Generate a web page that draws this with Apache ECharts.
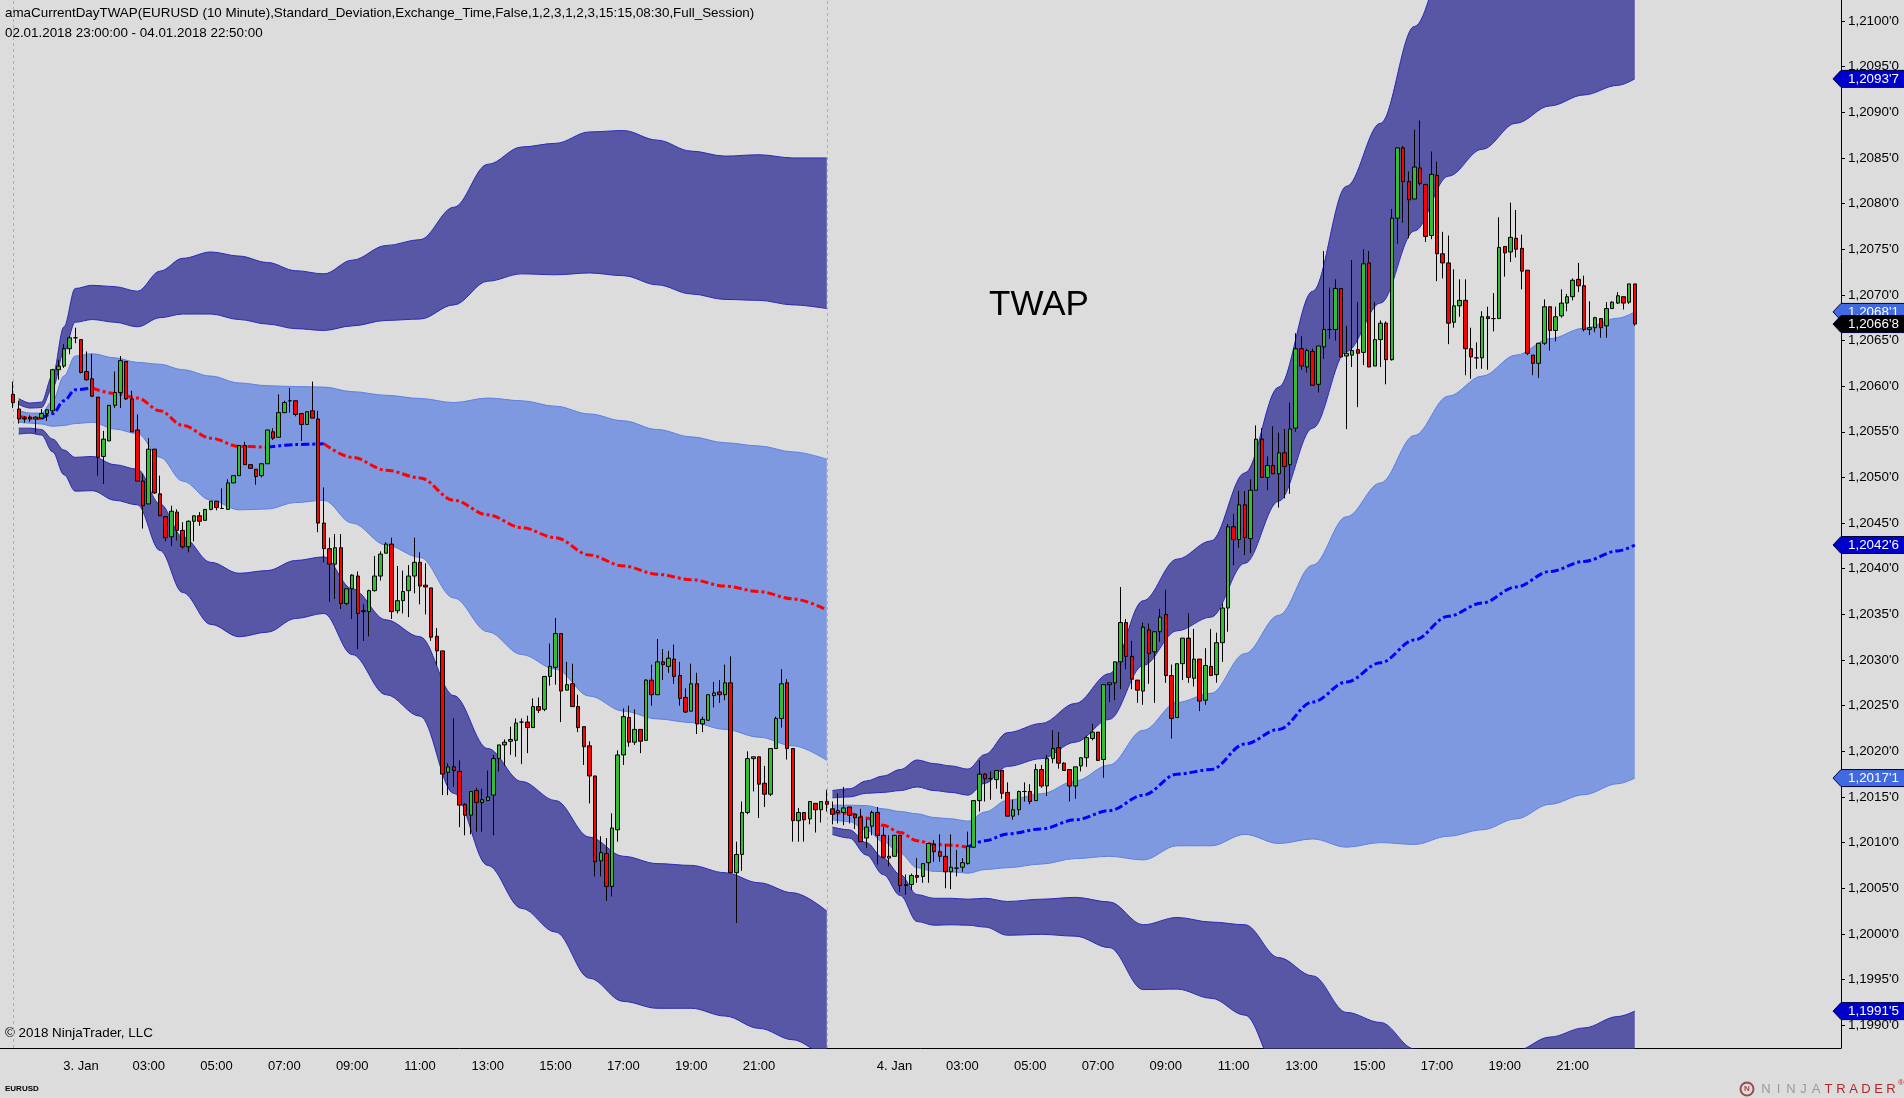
<!DOCTYPE html>
<html>
<head>
<meta charset="utf-8">
<script src="https://cdn.jsdelivr.net/npm/echarts@6/dist/echarts.min.js"></script>
<style>
html,body{margin:0;padding:0;background:#dcdcdc}
#chart{width:1904px;height:1098px}
</style>
</head>
<body>
<div id="chart"></div>
<script>
// EURUSD 10 minute bars, 02.01.2018 23:00 - 04.01.2018 22:50
// prices are kept as pips above 1.2000 (59.1 -> 1.20591)
var opens = [
59.1,57.5,56.5,56.6,56.4,56.5,57.0,57.3,61.8,62.2,64.1,65.3,
65.1,61.6,60.8,58.8,52.3,54.0,57.9,59.3,62.7,58.6,55.2,49.6,
47.1,53.1,48.2,45.7,43.5,46.2,44.2,42.4,45.2,45.8,45.3,46.5,
47.4,46.6,46.5,49.4,50.2,53.5,51.4,50.9,50.2,51.5,55.0,54.4,
57.1,58.4,58.4,57.0,55.8,57.3,56.4,45.0,42.2,40.5,42.3,36.2,
37.8,39.2,35.3,35.3,37.6,39.2,41.7,42.7,35.4,36.5,37.6,39.2,
40.7,38.2,37.9,32.6,31.0,17.7,18.3,17.8,14.2,13.0,15.7,14.4,
14.6,15.2,19.2,20.7,21.1,21.2,23.2,23.2,22.6,24.9,24.6,28.2,
29.2,32.9,26.7,27.4,24.9,22.7,20.6,17.3,8.0,8.8,5.2,11.4,
19.6,23.7,21.0,22.4,21.2,27.8,26.2,29.8,29.3,30.1,28.3,25.9,
24.4,27.4,23.0,23.4,26.1,26.5,26.2,27.5,6.7,8.7,13.3,19.2,
19.4,16.5,15.3,20.3,23.6,27.5,20.3,12.4,13.3,12.6,14.3,13.6,
14.5,13.7,13.3,13.3,13.9,13.1,12.8,10.5,11.8,13.3,10.8,8.3,
8.5,10.8,5.3,5.4,6.4,6.3,7.8,9.8,9.0,8.5,6.8,7.2,
7.3,7.7,9.5,14.6,17.5,17.0,16.9,17.9,15.5,12.9,13.6,15.6,
15.6,14.6,18.0,16.2,19.2,20.4,18.7,18.0,16.2,18.4,19.3,21.4,
22.1,19.1,27.3,27.5,29.8,34.1,30.4,27.8,26.6,33.3,30.9,33.1,
35.0,28.3,23.7,29.6,32.4,28.0,30.1,25.6,29.3,28.4,31.9,35.7,
44.6,43.2,47.0,43.3,48.6,54.2,50.0,51.3,50.4,52.7,51.4,55.4,
64.1,62.1,63.8,60.2,64.3,66.2,66.2,70.7,63.3,63.4,64.0,63.7,
73.5,62.2,65.1,66.9,62.9,78.4,86.1,82.4,80.5,83.9,82.1,76.5,
83.1,74.5,73.5,67.0,68.8,69.4,64.1,63.1,63.1,67.6,67.4,67.4,
75.3,74.7,76.2,75.1,72.7,63.4,62.5,64.7,68.7,66.1,67.7,69.1,
69.8,71.7,71.0,66.2,66.4,67.4,66.6,68.5,69.1,69.8,69.2,71.2
];
var highs = [
60.5,58.4,56.7,56.8,56.7,57.5,57.5,61.9,62.9,64.6,65.5,66.4,
65.1,63.8,63.5,58.8,55.1,57.9,61.6,63.3,62.7,59.5,56.9,50.4,
54.3,53.1,50.2,45.7,46.9,46.5,45.1,45.3,45.8,46.2,46.5,47.4,
47.4,48.8,49.8,50.2,53.5,53.9,51.4,50.9,51.5,55.2,55.4,59.1,
58.4,59.8,58.4,57.0,57.2,60.5,57.3,48.9,43.4,43.8,43.8,37.8,
39.4,39.7,36.1,37.7,41.4,41.9,42.9,43.4,40.3,39.8,40.4,43.4,
41.8,40.6,37.9,33.5,31.0,18.7,23.6,19.0,14.3,15.6,16.0,15.9,
17.9,19.6,20.7,21.3,22.7,23.6,23.6,23.9,25.8,25.9,28.2,31.8,
34.6,32.9,29.8,29.6,26.2,22.7,21.1,17.3,10.7,10.5,13.2,20.1,
24.7,25.0,24.6,22.4,27.9,29.5,32.3,31.2,31.0,31.7,29.8,26.9,
29.6,28.6,23.8,26.2,27.6,27.8,29.5,30.4,10.1,14.5,20.0,19.4,
19.4,18.4,20.3,23.8,29.0,27.9,20.3,13.8,13.3,14.5,14.3,14.5,
15.8,14.5,15.4,16.1,13.9,13.1,13.7,12.6,13.5,13.9,11.7,10.8,
10.8,10.8,6.5,6.6,8.3,7.7,9.9,10.3,10.9,9.8,10.9,9.2,
8.3,11.2,14.6,19.0,17.6,17.8,17.9,17.9,16.6,14.7,15.7,16.6,
16.4,18.6,18.5,19.6,22.3,22.1,18.8,18.0,18.3,19.3,21.7,23.0,
22.1,27.3,27.5,29.8,38.0,34.5,32.1,27.8,34.1,34.0,33.1,35.6,
37.7,29.5,29.6,32.4,35.1,33.4,30.1,31.3,33.4,33.0,36.2,44.9,
46.0,48.5,48.5,49.8,55.7,55.4,52.3,55.6,54.9,55.3,58.2,65.8,
65.5,64.1,64.1,64.4,74.8,70.8,71.7,70.7,66.6,73.8,69.2,75.0,
74.8,69.2,67.2,67.1,79.4,86.1,86.3,83.5,88.1,89.1,82.1,85.7,
84.6,76.9,76.5,72.8,71.7,71.7,66.4,64.8,68.2,68.7,70.2,78.5,
75.3,80.1,79.3,76.6,72.7,63.4,64.7,69.5,68.7,68.7,70.6,70.1,
71.8,73.5,72.1,69.3,67.6,67.4,69.2,69.3,70.3,69.8,71.2,71.2
];
var lows = [
57.6,55.9,56.0,56.1,54.9,56.4,56.2,57.1,60.7,62.0,63.5,64.7,
61.4,60.6,58.8,50.2,49.3,54.0,57.6,57.6,58.5,55.0,49.6,44.4,
47.1,48.2,45.8,43.0,42.5,43.1,42.2,41.8,43.0,44.7,45.3,46.4,
46.4,46.6,46.5,49.4,50.2,51.4,51.0,49.2,50.0,51.5,54.1,54.4,
57.1,57.1,56.7,54.0,55.8,56.5,44.0,40.7,36.4,36.7,35.6,36.0,
34.5,31.2,32.1,32.6,37.5,38.7,41.7,34.5,35.1,35.1,34.7,37.3,
36.1,35.0,32.1,29.4,15.2,15.2,16.1,11.7,10.8,10.9,11.2,11.2,
14.6,10.8,17.8,18.4,19.6,19.4,18.6,19.8,22.6,24.2,24.4,27.2,
27.3,23.2,26.7,24.9,22.1,18.5,14.3,6.3,6.3,3.6,4.1,10.1,
18.5,20.5,20.7,19.8,21.2,25.0,26.2,27.8,28.6,27.4,25.0,24.2,
24.4,21.9,22.1,23.4,24.8,25.3,25.6,6.7,1.2,6.9,13.1,15.6,
12.7,13.9,15.1,20.3,22.6,19.1,10.1,10.1,10.1,12.0,11.1,12.2,
13.4,12.0,12.1,11.9,12.1,11.5,10.1,9.4,10.8,7.6,8.3,7.4,
8.5,4.6,4.3,4.8,5.6,5.6,5.6,7.9,7.9,5.0,4.9,6.3,
6.8,7.6,9.4,13.4,14.5,14.7,15.9,14.8,12.9,12.5,13.0,14.5,
14.2,14.6,16.0,15.1,18.7,18.1,17.9,14.5,14.8,17.8,18.3,21.2,
19.0,17.1,25.4,25.6,26.8,29.0,26.8,25.3,25.1,27.4,25.3,32.0,
27.5,21.4,23.7,27.8,27.5,27.1,24.4,25.1,28.3,27.5,29.8,33.1,
40.4,42.3,41.5,41.7,48.6,50.0,48.6,50.4,46.7,47.7,48.2,55.0,
61.8,61.5,60.1,59.3,63.0,65.2,65.0,63.1,55.3,62.1,57.7,62.3,
62.1,62.2,62.1,60.2,62.8,75.6,77.9,76.2,80.5,82.0,75.8,76.1,
71.5,71.8,64.6,66.4,67.6,61.2,60.8,61.9,61.9,61.8,66.0,67.4,
72.0,73.6,74.1,70.6,63.4,61.2,60.9,64.5,63.9,64.9,67.5,68.2,
69.4,70.3,66.0,65.6,65.9,65.3,65.3,68.5,69.0,68.4,69.0,66.6
];
var closes = [
58.2,56.4,56.4,56.4,56.6,57.0,57.4,61.8,62.2,64.1,65.3,65.3,
61.5,60.7,58.9,52.2,54.2,57.9,59.3,62.8,58.6,55.0,49.6,46.9,
53.1,48.3,45.8,43.4,46.3,44.2,42.4,45.2,45.8,45.2,46.5,47.4,
46.7,46.6,49.4,50.2,53.5,51.4,51.0,50.1,51.5,55.2,54.3,57.1,
58.2,58.4,56.9,55.8,57.2,56.5,45.0,42.2,40.5,42.3,36.2,37.8,
39.3,35.1,35.4,37.6,39.2,41.6,42.7,35.3,36.5,37.5,39.2,40.7,
38.1,38.0,32.5,31.0,17.5,18.3,17.9,14.1,13.0,15.6,14.4,14.7,
15.0,19.2,20.7,21.0,21.3,23.1,23.2,22.6,24.9,24.5,28.2,29.3,
32.9,26.6,27.3,24.9,22.6,20.5,17.3,7.9,8.9,5.2,11.6,19.6,
23.8,21.0,22.4,21.1,27.8,26.2,29.8,29.5,30.2,28.2,25.8,24.3,
27.4,23.0,23.5,26.2,26.4,26.2,27.5,6.7,8.7,13.3,19.2,19.4,
16.4,15.3,20.3,23.6,27.4,20.3,12.4,13.3,12.5,14.5,13.6,14.5,
14.2,13.1,13.5,13.8,13.0,12.7,10.1,11.7,13.3,10.8,8.4,8.5,
10.8,5.3,5.4,6.4,6.2,7.7,9.9,9.0,8.5,6.8,7.3,7.2,
7.8,9.6,14.6,17.5,17.0,17.0,17.9,15.4,12.9,13.6,15.6,15.6,
14.5,18.0,16.2,19.2,20.3,18.7,17.9,16.2,18.3,19.3,21.5,22.1,
19.0,27.3,27.5,29.8,34.1,30.4,27.9,26.7,33.6,30.7,33.1,34.7,
28.3,23.6,29.6,32.4,28.1,30.1,25.5,29.4,28.3,31.9,35.7,44.6,
43.2,47.0,43.4,48.6,54.2,50.0,51.3,50.4,52.7,51.2,55.3,64.1,
62.2,63.9,60.1,64.4,66.2,66.2,70.7,63.2,63.6,63.9,63.6,73.4,
62.1,65.1,66.9,62.9,78.4,86.1,82.4,80.4,84.0,82.2,76.4,83.2,
74.5,73.5,66.9,68.8,69.4,64.1,63.2,63.1,67.6,67.4,67.4,75.2,
74.6,76.3,75.0,72.6,63.6,62.5,64.7,68.7,66.1,67.6,69.1,69.8,
71.6,71.0,66.2,66.4,67.5,66.4,68.5,69.2,69.9,69.1,71.2,66.8
];

// TWAP and its standard deviation, read at sample bars of each session
var day1Bars = [1,3,5,7,9,11,14,18,22,26,30,35,40,45,50,55,60,66,72,78,84,90,96,102,108,114,120,126,132,138,144];
var day1Twap = [56.7,56.5,56.45,57.0,58.4,59.6,59.8,59.2,58.7,57.3,55.7,54.3,53.4,53.3,53.6,53.7,52.2,50.8,49.95,47.5,45.9,44.5,43.4,41.5,40.3,39.4,38.8,38.1,37.5,36.7,35.5];
var day1Sd = [0.65,0.55,0.6,1.4,2.7,3.7,3.75,3.9,3.9,5.1,6.1,6.8,6.95,6.75,6.35,6.2,7.2,8.2,8.7,10.7,12.8,13.9,14.4,15.45,15.9,15.85,15.65,15.7,15.95,16.1,16.5];
var day2Bars = [145,148,151,154,157,160,163,166,169,172,176,182,188,194,200,206,212,218,224,230,236,242,248,254,260,266,272,278,284,287];
var day2Twap = [13.3,13.2,12.7,11.9,11.1,10.2,9.8,9.7,9.5,10.2,10.95,11.5,12.5,13.5,15.2,17.5,18.0,20.8,22.4,25.4,27.6,29.7,32.2,34.8,36.25,38.0,39.7,40.8,41.95,42.6];
var day2Sd = [0.8,0.9,1.35,1.8,2.3,2.95,2.95,2.9,2.85,3.15,3.7,3.85,4.25,5.0,7.1,7.85,8.35,9.9,12.5,15.0,18.1,19.7,22.4,24.1,24.85,25.4,25.5,25.55,25.5,25.53];

var sessionBars = [0, 144];
var tickBars = [12,24,36,48,60,72,84,96,108,120,132,156,168,180,192,204,216,228,240,252,264,276];
var tickLabels = ['3. Jan','03:00','05:00','07:00','09:00','11:00','13:00','15:00','17:00','19:00','21:00',
                  '4. Jan','03:00','05:00','07:00','09:00','11:00','13:00','15:00','17:00','19:00','21:00'];
var priceTicks = [1.1990,1.1995,1.2000,1.2005,1.2010,1.2015,1.2020,1.2025,1.2030,1.2035,1.2040,1.2045,
                  1.2050,1.2055,1.2060,1.2065,1.2070,1.2075,1.2080,1.2085,1.2090,1.2095,1.2100];

var FONT = '"Liberation Sans", Arial, sans-serif';
var UP = '#2fbf2f', DOWN = '#ff0000';
var DARK_FILL = '#5757a5', DARK_EDGE = '#2a2ab8';
var LIGHT_FILL = '#7e99e0', LIGHT_EDGE = '#5b80e4';

function toPrice(p) { return Math.round((1.2 + p / 10000) * 1e6) / 1e6; }
function fmtPrice(v) {
	var s = (+v).toFixed(5);
	return s.slice(0, 6).replace('.', ',') + "'" + s.slice(6);
}

// one category per 10 minute bar, with empty room left and right
var cats = [];
for (var k = -2; k <= 323; k++) cats.push(String(k));

function level(twap, sd, m) {
	return twap.map(function (t, i) { return toPrice(t + m * sd[i]); });
}

// band = stacked pair: lower edge, then width on top of it
function band(id, bars, lo, hi, fill, edge) {
	var base = { type: 'line', stack: id, symbol: 'none', smooth: 0.35, smoothMonotone: 'x',
		silent: true, z: 1, lineStyle: { color: edge, width: 1 } };
	return [
		Object.assign({}, base, { data: bars.map(function (b, i) { return [String(b), lo[i]]; }) }),
		Object.assign({}, base, {
			data: bars.map(function (b, i) { return [String(b), Math.round((hi[i] - lo[i]) * 1e6) / 1e6]; }),
			areaStyle: { color: fill, opacity: 1 }
		})
	];
}

// TWAP drawn blue while rising, red while falling
function twapRuns(bars, twap) {
	var runs = [], cur = null;
	for (var i = 1; i < bars.length; i++) {
		var up = twap[i] > twap[i - 1];
		if (!cur || cur.up !== up) {
			cur = { up: up, pts: [[String(bars[i - 1]), toPrice(twap[i - 1])]] };
			runs.push(cur);
		}
		cur.pts.push([String(bars[i]), toPrice(twap[i])]);
	}
	return runs.map(function (r) {
		return { type: 'line', data: r.pts, symbol: 'none', smooth: 0.35, smoothMonotone: 'x', silent: true, z: 3,
			lineStyle: { color: r.up ? '#0000ff' : '#ff0000', width: 3, type: [8, 3, 3, 3] } };
	});
}

var series = [];
[[day1Bars, day1Twap, day1Sd], [day2Bars, day2Twap, day2Sd]].forEach(function (d, n) {
	series = series.concat(
		band('up' + n, d[0], level(d[1], d[2], 2), level(d[1], d[2], 3), DARK_FILL, DARK_EDGE),
		band('mid' + n, d[0], level(d[1], d[2], -1), level(d[1], d[2], 1), LIGHT_FILL, LIGHT_EDGE),
		band('low' + n, d[0], level(d[1], d[2], -3), level(d[1], d[2], -2), DARK_FILL, DARK_EDGE),
		twapRuns(d[0], d[1])
	);
});

series.push({
	type: 'candlestick', z: 5, silent: true, barWidth: 4,
	encode: { x: 0, y: [1, 2, 3, 4] },
	data: opens.map(function (o, i) {
		return [String(i), toPrice(o), toPrice(closes[i]), toPrice(lows[i]), toPrice(highs[i])];
	}),
	itemStyle: { color: UP, color0: DOWN, borderColor: '#000', borderColor0: '#000', borderColorDoji: '#000', borderWidth: 1 },
	markLine: {
		silent: true, symbol: ['none', 'none'], label: { show: false },
		lineStyle: { color: '#b0b0b0', type: [3, 3], width: 1 },
		data: sessionBars.map(function (b) { return { xAxis: String(b) }; })
	}
});

// price markers on the right axis
var lastT = day2Twap[day2Twap.length - 1], lastS = day2Sd[day2Sd.length - 1];
var flagValues = [lastT + 2 * lastS, lastT + lastS, lastT, lastT - lastS, lastT - 2 * lastS, closes[closes.length - 1]];
var flagKinds = ['dark', 'light', 'dark', 'light', 'dark', 'close'];
var flagColors = { dark: '#0000cd', light: '#4169e1', close: '#000000' };

series.push({
	type: 'custom', z: 10, clip: false, silent: true,
	encode: { x: 0, y: 1 },
	data: flagValues.map(function (v) { return ['287', toPrice(v)]; }),
	renderItem: function (params, api) {
		var y = api.coord([api.value(0), api.value(1)])[1];
		var x = params.coordSys.x + params.coordSys.width;
		var kind = flagKinds[params.dataIndex];
		return {
			type: 'group',
			children: [{
				type: 'polygon',
				shape: { points: [[x - 8, y], [x, y - 8.5], [x + 64, y - 8.5], [x + 64, y + 8.5], [x, y + 8.5]] },
				style: { fill: flagColors[kind], stroke: '#00003c', lineWidth: 1 }
			}, {
				type: 'text',
				style: { x: x + 7, y: y + 0.5, text: fmtPrice(api.value(1)), fill: '#ffffff',
					font: '13.4px ' + FONT, verticalAlign: 'middle' }
			}]
		};
	}
});

var graphics = [
	{ type: 'text', x: 5, y: 13, style: { text: 'amaCurrentDayTWAP(EURUSD (10 Minute),Standard_Deviation,Exchange_Time,False,1,2,3,1,2,3,15:15,08:30,Full_Session)', font: '13.4px ' + FONT, fill: '#000', verticalAlign: 'middle' } },
	{ type: 'text', x: 5, y: 33, style: { text: '02.01.2018 23:00:00 - 04.01.2018 22:50:00', font: '13.4px ' + FONT, fill: '#000', verticalAlign: 'middle' } },
	{ type: 'text', x: 5, y: 1033, style: { text: '\u00a9 2018 NinjaTrader, LLC', font: '13.4px ' + FONT, fill: '#000', verticalAlign: 'middle' } },
	{ type: 'text', x: 5, y: 1089, style: { text: 'EURUSD', font: 'bold 8px ' + FONT, fill: '#000', verticalAlign: 'middle' } },
	{ type: 'text', x: 1039, y: 305, style: { text: 'TWAP', font: '35px ' + FONT, fill: '#000', align: 'center', verticalAlign: 'middle' } },
	{ type: 'circle', shape: { cx: 1747, cy: 1089, r: 6.5 }, style: { fill: 'none', stroke: '#9b4a4a', lineWidth: 2 } },
	{ type: 'text', x: 1747, y: 1089, style: { text: 'N', font: 'bold 8px ' + FONT, fill: '#9b4a4a', align: 'center', verticalAlign: 'middle' } },
	{ type: 'text', x: 1901, y: 1083, style: { text: '\u00ae', font: '8px ' + FONT, fill: '#b3262b', align: 'center', verticalAlign: 'middle' } }
];
'NINJATRADER'.split('').forEach(function (ch, i) {
	graphics.push({ type: 'text', x: 1766 + i * 12.5, y: 1089,
		style: { text: ch, font: '13px ' + FONT, fill: i < 5 ? '#9a9a9a' : '#b3262b', align: 'center', verticalAlign: 'middle' } });
});

function isTick(idx, val) { return tickBars.indexOf(+val) >= 0; }

var chart = echarts.init(document.getElementById('chart'));
chart.setOption({
	animation: false,
	backgroundColor: '#dcdcdc',
	textStyle: { fontFamily: FONT },
	grid: { left: -1, right: 63, top: 0, bottom: 50, containLabel: false, outerBoundsMode: 'none' },
	xAxis: {
		type: 'category', data: cats, boundaryGap: true,
		axisLine: { lineStyle: { color: '#000', width: 1 } },
		axisTick: { alignWithLabel: true, interval: isTick, length: 4, lineStyle: { color: '#000' } },
		axisLabel: {
			interval: isTick, margin: 12, color: '#000', fontSize: 13, fontFamily: FONT,
			formatter: function (val) { return tickLabels[tickBars.indexOf(+val)]; }
		},
		splitLine: { show: false }
	},
	yAxis: {
		type: 'value', position: 'right', min: 1.19875, max: 1.21023, splitNumber: 23, scale: true,
		axisLine: { show: true, lineStyle: { color: '#000', width: 1 } },
		axisTick: { show: true, inside: false, length: 4, customValues: priceTicks, lineStyle: { color: '#000' } },
		axisLabel: { margin: 7, color: '#000', fontSize: 13.4, fontFamily: FONT, customValues: priceTicks,
			formatter: fmtPrice },
		splitLine: { show: false }
	},
	graphic: graphics,
	series: series
});
</script>
</body>
</html>
